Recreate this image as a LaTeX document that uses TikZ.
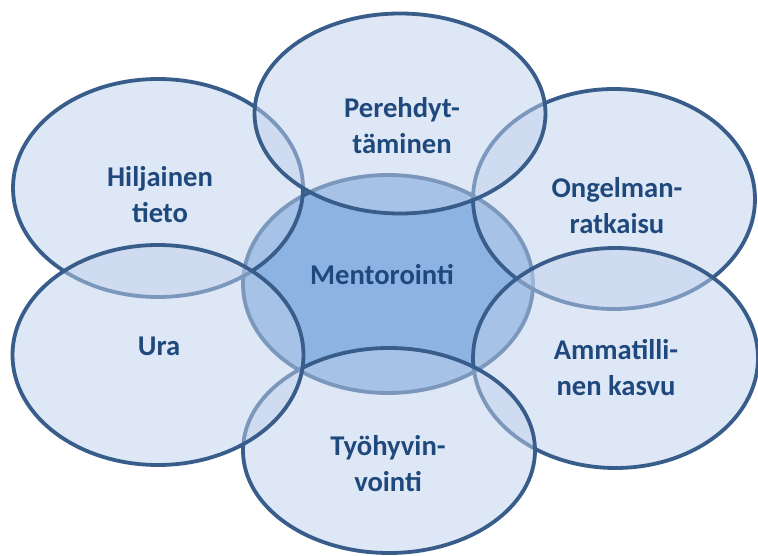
\documentclass[tikz,border=0pt]{standalone}
\usepackage{fontspec}
\setmainfont{Carlito}
\usetikzlibrary{shapes.geometric}
\definecolor{edge}{RGB}{56,93,138}
\definecolor{outerfill}{RGB}{191,209,237}
\definecolor{centerfill}{RGB}{141,179,226}
\definecolor{txt}{RGB}{31,73,125}
\tikzset{
  blob/.style={ellipse, draw=edge, line width=3.8pt, inner sep=0pt},
  outerblob/.style={blob, fill=outerfill, fill opacity=0.5, draw opacity=1},
  centerblob/.style={blob, fill=centerfill},
  label/.style={text=txt, inner sep=0pt, align=center,
    font=\fontsize{28.6pt}{36pt}\selectfont\bfseries}
}
\begin{document}
\begin{tikzpicture}[x=1pt,y=-1pt]
\useasboundingbox (0,0) rectangle (758,556);
\fill[white] (0,0) rectangle (758,556);
\node[centerblob, minimum width=290pt, minimum height=218pt] (ment) at (388,284) {};
\node[outerblob, minimum width=290pt, minimum height=218pt] (hilj) at (158,188) {};
\node[outerblob, minimum width=282pt, minimum height=220pt] (ongel) at (614,199) {};
\node[outerblob, minimum width=291pt, minimum height=200pt] (pere) at (400,113.5) {};
\node[outerblob, minimum width=285pt, minimum height=220pt] (ammat) at (615.5,358) {};
\node[outerblob, minimum width=292pt, minimum height=205pt] (tyo) at (389,450.5) {};
\node[outerblob, minimum width=291pt, minimum height=220pt] (ura) at (158,355) {};
\node[label] (tment) at (382,276.8) {\strut Mentorointi};
\node[label] (thilj) at (160,197.8) {\strut Hiljainen\\\strut tieto};
\node[label] (tpere) at (402,128.8) {\strut Perehdyt-\\\strut täminen};
\node[label] (tongel) at (617,208.8) {\strut Ongelman-\\\strut ratkaisu};
\node[label] (tura) at (159,347.8) {\strut Ura};
\node[label] (tammat) at (616,369.8) {\strut Ammatilli-\\\strut nen kasvu};
\node[label] (ttyo) at (388,465.8) {\strut Työhyvin-\\\strut vointi};
\end{tikzpicture}
\end{document}
